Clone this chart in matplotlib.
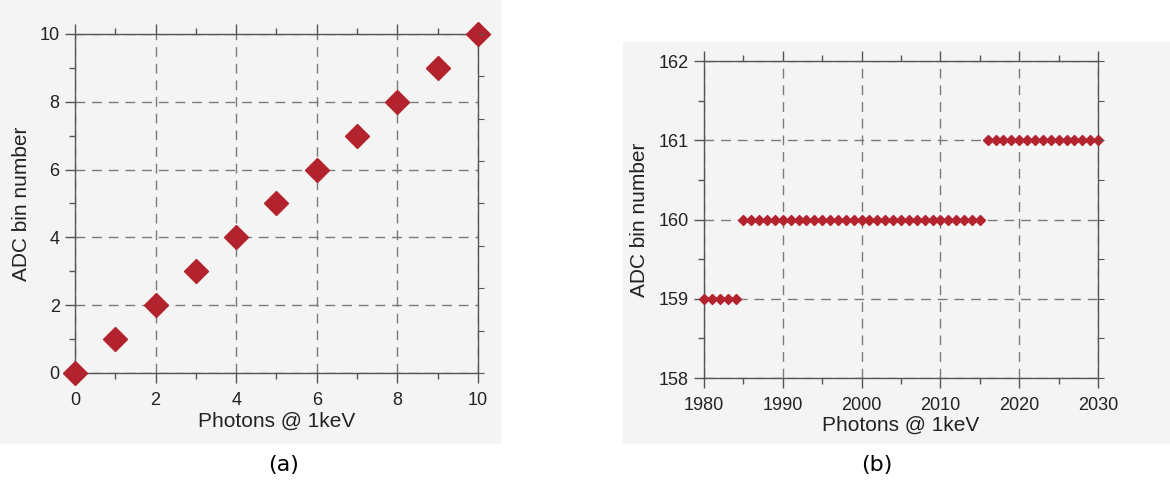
"""ADC bin number versus photon count at 1 keV: linear range (a) and high range (b)."""

import matplotlib.pyplot as plt
from matplotlib.patches import Rectangle
from matplotlib.ticker import MultipleLocator

plt.rcParams["font.family"] = ["Liberation Sans", "DejaVu Sans"]

# panel (a): low photon counts
photons_a = [0, 1, 2, 3, 4, 5, 6, 7, 8, 9, 10]
adc_a = [0, 1, 2, 3, 4, 5, 6, 7, 8, 9, 10]

# panel (b): around 2000 photons
photons_b = [
    1980, 1981, 1982, 1983, 1984, 1985, 1986, 1987, 1988, 1989,
    1990, 1991, 1992, 1993, 1994, 1995, 1996, 1997, 1998, 1999,
    2000, 2001, 2002, 2003, 2004, 2005, 2006, 2007, 2008, 2009,
    2010, 2011, 2012, 2013, 2014, 2015, 2016, 2017, 2018, 2019,
    2020, 2021, 2022, 2023, 2024, 2025, 2026, 2027, 2028, 2029,
    2030,
]
adc_b = [
    159, 159, 159, 159, 159, 160, 160, 160, 160, 160,
    160, 160, 160, 160, 160, 160, 160, 160, 160, 160,
    160, 160, 160, 160, 160, 160, 160, 160, 160, 160,
    160, 160, 160, 160, 160, 160, 161, 161, 161, 161,
    161, 161, 161, 161, 161, 161, 161, 161, 161, 161,
    161,
]

RED = "#b3232d"
SPINE = "#555555"
GRID = "#7a7a7a"
PANEL_BG = "#f4f4f4"
TEXT = "#222222"


def _style_axes(ax, xlim, ylim, xmaj, xmin, ymaj, ymin, right_step):
    ax.set_xlim(*xlim)
    ax.set_ylim(*ylim)
    ax.set_facecolor("none")
    ax.xaxis.set_major_locator(MultipleLocator(xmaj))
    ax.xaxis.set_minor_locator(MultipleLocator(xmin))
    ax.yaxis.set_major_locator(MultipleLocator(ymaj))
    ax.yaxis.set_minor_locator(MultipleLocator(ymin))
    for sp in ax.spines.values():
        sp.set_color(SPINE)
        sp.set_linewidth(1.0)
    ax.tick_params(which="both", direction="out", top=True, right=False,
                   color=SPINE, width=1.0)
    ax.tick_params(which="major", length=7, labelsize=13, labelcolor=TEXT)
    ax.tick_params(axis="x", which="major", pad=7)
    ax.tick_params(axis="y", which="major", pad=4)
    ax.tick_params(which="minor", length=4)
    ax.grid(True, which="major", color=GRID, lw=1.0, ls=(0, (7, 5)))
    ax.set_axisbelow(True)

    # right-hand axis carries its own, finer tick spacing
    tw = ax.twinx()
    tw.set_ylim(*ylim)
    tw.yaxis.set_major_locator(MultipleLocator(right_step))
    tw.tick_params(direction="out", length=4, color=SPINE, labelright=False)
    for sp in tw.spines.values():
        sp.set_visible(False)


fig = plt.figure(figsize=(11.7, 4.87), dpi=100)
fig.patch.set_facecolor("white")

# light grey scanned-figure backgrounds
fig.add_artist(Rectangle((0.0, 1 - 443 / 487), 500 / 1170, 443 / 487,
                         transform=fig.transFigure, color=PANEL_BG, zorder=0))
fig.add_artist(Rectangle((623 / 1170, 1 - 443 / 487), 547 / 1170, 401 / 487,
                         transform=fig.transFigure, color=PANEL_BG, zorder=0))

ax_a = fig.add_axes([0.0641, 0.2341, 0.3444, 0.6961])
_style_axes(ax_a, (0, 10), (0, 10), 2, 1, 2, 1, 1.25)
ax_a.plot(photons_a, adc_a, "D", color=RED, ms=12.5, mec=RED, clip_on=False, zorder=5)
ax_a.set_xlabel("Photons @ 1keV", fontsize=15, color=TEXT, labelpad=2)
ax_a.set_ylabel("ADC bin number", fontsize=15, color=TEXT, labelpad=6)

ax_b = fig.add_axes([0.6017, 0.2238, 0.3368, 0.6509])
_style_axes(ax_b, (1980, 2030), (158, 162), 10, 5, 1, 0.5, 0.5)
ax_b.plot(photons_b, adc_b, "D", color=RED, ms=5.4, mec=RED, clip_on=False, zorder=5)
ax_b.set_xlabel("Photons @ 1keV", fontsize=15, color=TEXT, labelpad=1)
ax_b.set_ylabel("ADC bin number", fontsize=15, color=TEXT, labelpad=7)

fig.text(0.242, 0.045, "(a)", ha="center", va="center", fontsize=16, family="DejaVu Sans")
fig.text(0.749, 0.045, "(b)", ha="center", va="center", fontsize=16, family="DejaVu Sans")

fig.savefig("out.png", dpi=100)
plt.close(fig)
